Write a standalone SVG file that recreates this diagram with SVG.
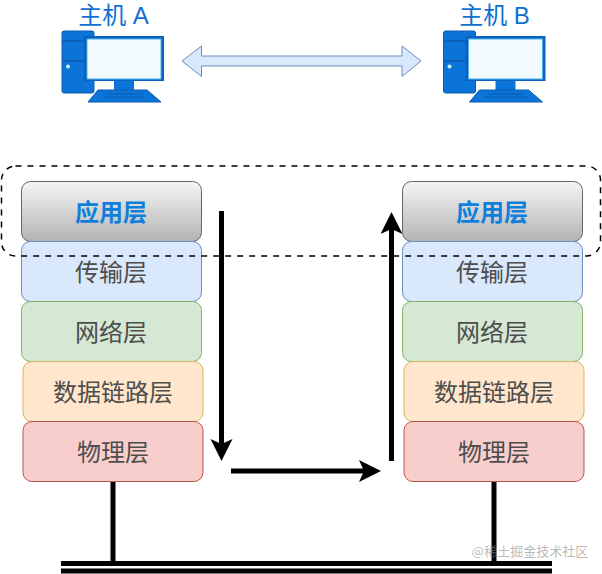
<svg xmlns="http://www.w3.org/2000/svg" xmlns:xlink="http://www.w3.org/1999/xlink" width="602" height="574" viewBox="0 0 602 574">
<style>
text{font-family:"Noto Sans CJK SC","Liberation Sans",sans-serif;text-anchor:middle}
.host{font-family:"Liberation Sans","Noto Sans CJK SC",sans-serif;font-size:24px;fill:#0f6fd2}
.layer{font-size:24px;fill:#4d4d4d}
.app{font-size:24px;font-weight:700;fill:#0f7fdc}
.wire{fill:none;stroke:#000;stroke-width:5}
.grey{fill:url(#g);stroke:#666}
.blue{fill:#dae8fc;stroke:#6c8ebf}
.green{fill:#d5e8d4;stroke:#82b366}
.orange{fill:#ffe6cc;stroke:#d6b656}
.red{fill:#f8cecc;stroke:#b85450}
.mark{font-size:13px;fill:#8a8a8a;fill-opacity:.6}
</style>
<defs>
<linearGradient id="g" x1="0" y1="0" x2="0" y2="1"><stop offset="0" stop-color="#f5f5f5"/><stop offset="1" stop-color="#b3b3b3"/></linearGradient>
<marker id="ah" markerUnits="userSpaceOnUse" markerWidth="24" markerHeight="24" refX="5" refY="11" orient="auto" viewBox="0 0 24 24"><path d="M0 0L22 11L0 22L5 11Z" fill="#000"/></marker>
<symbol id="pc" width="105" height="74" viewBox="0 0 105 74" overflow="visible">
<rect x="0" y="0" width="32" height="62" rx="2" fill="#0a74d8" stroke="#0a5bb0"/>
<path d="M0 10H32M0 30H32" stroke="#0a5bb0" stroke-width="1.5"/>
<circle cx="6" cy="35.500" r="2" fill="#cfefff"/>
<rect x="22" y="5" width="80" height="45" fill="#0a62bd"/>
<rect x="25" y="8" width="74" height="40" fill="#f3faff" stroke="#49b2ee"/>
<rect x="52" y="50" width="20" height="9" fill="#0a74d8"/>
<path d="M36 59H85L99 71H26Z" fill="#0a74d8" stroke="#0a5bb0"/>
<path d="M44 63H80M41 66H83" stroke="#0a5bb0" stroke-width="1"/>
</symbol>
</defs>
<g id="connectors">
<path class="wire" d="M221.500 211V444" marker-end="url(#ah)"/>
<path class="wire" d="M231 471H364" marker-end="url(#ah)"/>
<path class="wire" d="M391.500 461V229" marker-end="url(#ah)"/>
<path class="wire" d="M113 482V562"/>
<path class="wire" d="M494 482V562"/>
<path class="wire" d="M61 563.500H552"/>
<path class="wire" d="M61 571H552"/>
<path id="link" d="M182 61L201.500 46V56H402V46L421 61L402 76.500V66H201.500V76.500Z" fill="#dae8fc" stroke="#6c8ebf"/>
</g>
<g id="hostA"><use xlink:href="#pc" x="62" y="31"/><text class="host" x="113.500" y="24">主机 A</text></g>
<g id="hostB"><use xlink:href="#pc" x="443.500" y="31"/><text class="host" x="494.500" y="24">主机 B</text></g>
<g id="a-app"><rect class="grey" x="21.500" y="181.500" width="180" height="60" rx="9"/><text class="app" x="111" y="221">应用层</text></g>
<g id="a-trans"><rect class="blue" x="21.500" y="241.500" width="180" height="60" rx="9"/><text class="layer" x="111" y="281">传输层</text></g>
<g id="a-net"><rect class="green" x="21.500" y="301.500" width="180" height="60" rx="9"/><text class="layer" x="111" y="341">网络层</text></g>
<g id="a-link"><rect class="orange" x="23" y="361.500" width="180" height="60" rx="9"/><text class="layer" x="113" y="401">数据链路层</text></g>
<g id="a-phy"><rect class="red" x="23" y="421.500" width="180" height="60" rx="9"/><text class="layer" x="113" y="461">物理层</text></g>
<g id="b-app"><rect class="grey" x="402.500" y="181.500" width="180" height="60" rx="9"/><text class="app" x="492" y="221">应用层</text></g>
<g id="b-trans"><rect class="blue" x="402.500" y="241.500" width="180" height="60" rx="9"/><text class="layer" x="492" y="281">传输层</text></g>
<g id="b-net"><rect class="green" x="402.500" y="301.500" width="180" height="60" rx="9"/><text class="layer" x="492" y="341">网络层</text></g>
<g id="b-link"><rect class="orange" x="404" y="361.500" width="180" height="60" rx="9"/><text class="layer" x="494" y="401">数据链路层</text></g>
<g id="b-phy"><rect class="red" x="404" y="421.500" width="180" height="60" rx="9"/><text class="layer" x="494" y="461">物理层</text></g>
<g id="boundary"><rect x="1.500" y="166" width="599" height="90" rx="14" fill="none" stroke="#000" stroke-width="1.500" stroke-dasharray="6 6"/></g>
<text class="mark" x="530" y="556">@稀土掘金技术社区</text>
</svg>
